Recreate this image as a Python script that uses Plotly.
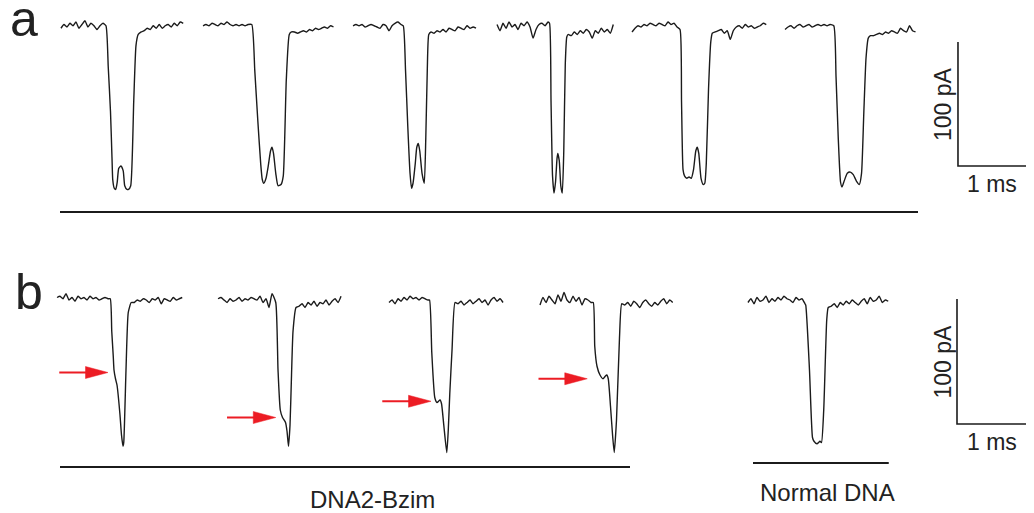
import plotly.graph_objects as go

# ---------------- data (time in ms, current change in pA) ----------------
DT = 0.04  # sampling step of the baseline segments (ms)

# Panel a traces: baseline before event, event points, baseline after event
a1_pre = [-1, 2, 0, 3, 1, 4, -1, 2, 5, 0, 3, 1, -2, 1, 3]
a1_ev_t = [0.60, 0.63, 0.66, 0.68, 0.69, 0.71, 0.73, 0.75, 0.77, 0.80, 0.83, 0.85, 0.88, 0.90, 0.93, 0.97, 1.00, 1.03]
a1_ev_i = [1, -32, -68, -105, -123, -130, -131, -125, -114, -112, -116, -128, -131, -131, -128, -60, -15, -6]
a1_post = [-4, -3, -1, -2, 1, -1, 2, -1, 1, 2, 0, 3, 1, 4, 3]

a2_pre = [1, 2, 1, 3, 2, 1, 3, 2, 4, 2, 1, 2, 1, 2, 1, 2]
a2_ev_t = [0.65, 0.69, 0.73, 0.77, 0.79, 0.81, 0.84, 0.87, 0.90, 0.92, 0.94, 0.97, 1.00, 1.04, 1.07, 1.11, 1.15, 1.18]
a2_ev_i = [2, -35, -75, -111, -123, -126, -122, -112, -100, -97, -102, -118, -128, -127, -120, -43, -6, -4]
a2_post = [-4, -5, -4, -3, -4, -2, -3, -1, -2, -1, 0, -1, 1, 0]

a3_pre = [1, 2, 1, 2, 0, 1, 2, 1, 0, -1, 2, 1, -3, 1, 3, 4, 2]
a3_ev_t = [0.67, 0.70, 0.73, 0.76, 0.78, 0.80, 0.83, 0.85, 0.87, 0.89, 0.92, 0.95, 0.97, 0.99, 1.01, 1.04]
a3_ev_i = [1, -35, -80, -118, -130, -126, -110, -97, -94, -100, -118, -126, -90, -35, -6, -4]
a3_post = [-5, -3, -4, -2, -4, -1, -2, -3, 0, -1, -2, 1, -1, 0, -1]

a4_pre = [2, -3, 3, -1, 4, 0, 2, -2, 3, 1, 4, 0, -9, -2, 2, 3, 1, 4]
a4_ev_t = [0.70, 0.72, 0.74, 0.76, 0.78, 0.80, 0.81, 0.83, 0.85, 0.87, 0.89, 0.91, 0.93, 0.95]
a4_ev_i = [3, -60, -120, -134, -125, -106, -102, -108, -128, -134, -100, -30, -8, -6]
a4_post = [-7, -4, -6, -3, -5, -2, -4, -9, -3, -5, -1, -4, -2, -5, 2]

a5_pre = [-4, -1, 1, 0, 2, 1, 3, 2, 1, 3, 2, 1, 4, 2, 3, 0]
a5_ev_t = [0.64, 0.66, 0.68, 0.70, 0.73, 0.76, 0.79, 0.82, 0.85, 0.87, 0.89, 0.92, 0.95, 0.97, 0.99, 1.02, 1.05, 1.07]
a5_ev_i = [-2, -60, -115, -120, -122, -121, -122, -115, -100, -97, -102, -122, -127, -126, -110, -50, -12, -5]
a5_post = [-4, -3, -2, -5, -3, -10, -3, 0, 1, -1, 2, 0, 1, -1, 0, 1, 3, 2]

a6_pre = [-2, 0, 1, -1, 1, 2, 0, 1, 2, 0, 1, 2, 1, 2, 1, 2]
a6_ev_t = [0.65, 0.68, 0.71, 0.74, 0.76, 0.79, 0.83, 0.87, 0.91, 0.95, 0.99, 1.02, 1.05, 1.08, 1.11, 1.14]
a6_ev_i = [1, -40, -90, -125, -129, -124, -118, -117, -119, -124, -127, -118, -70, -25, -9, -7]
a6_post = [-7, -6, -5, -6, -4, -5, -3, -4, -5, -1, -3, -4, 1, -3, -4]

# Panel b traces (DNA2-Bzim x4, normal DNA x1)
b1_pre = [2, 3, 1, 5, 0, 2, -1, 3, 1, 2, 0, 3, 1, 2, 0, 1, 2, 1]
b1_ev_t = [0.71, 0.73, 0.75, 0.76, 0.78, 0.80, 0.84, 0.86, 0.88, 0.89, 0.92, 0.95, 0.99]
b1_ev_i = [1, -25, -45, -56, -63, -68, -92, -108, -117, -114, -56, -10, -2]
b1_post = [-2, 0, -1, 1, 0, -2, 1, 0, 2, -3, 1, 0, -1, 2, 0, 1, 2]

b2_pre = [1, 2, 0, -2, 1, -1, 0, 2, -1, 1, 0, 2, 1, 0, 3, -2, 1, -6, 5]
b2_ev_t = [0.77, 0.80, 0.83, 0.86, 0.90, 0.92, 0.94, 0.96, 0.98, 1.00, 1.04]
b2_ev_i = [-2, -56, -88, -94, -98, -105, -117, -100, -60, -25, -6]
b2_post = [-5, -3, -6, -2, -4, -1, -5, -2, -3, 0, -4, -1, 1, -2, 3]

b3_pre = [-2, 0, -3, 1, -1, 2, 0, 3, 1, 2, 0, 2, 1, 0]
b3_ev_t = [0.54, 0.57, 0.61, 0.64, 0.68, 0.70, 0.73, 0.77, 0.79, 0.81, 0.84, 0.88]
b3_ev_i = [0, -42, -78, -82, -80, -83, -100, -122, -104, -75, -40, -2]
b3_post = [-3, -1, -4, -2, 0, -3, -1, 1, -2, 0, -4, 0, 2, -1, 1, -2]

b4_pre = [-4, 2, -2, 3, 0, -3, 4, -1, 6, 0, -2, 3, -1, 2, -4, 1, 0, -2]
b4_ev_t = [0.71, 0.73, 0.76, 0.80, 0.84, 0.87, 0.89, 0.91, 0.94, 0.97, 0.99, 1.02, 1.06, 1.09]
b4_ev_i = [-2, -37, -53, -60, -63, -61, -60, -63, -85, -110, -122, -96, -30, -3]
b4_post = [-4, -2, -5, -1, -3, -6, -2, 0, -3, -5, -2, -4, -1, 1, -3, 0, -2]

b5_pre = [-2, 1, -3, 2, -1, 0, 3, -2, 1, -1, 2, 0, 3, 1, 0, -2, 2, 0, 1, -3]
b5_ev_t = [0.77, 0.82, 0.86, 0.88, 0.92, 0.96, 0.98, 1.01, 1.05, 1.07]
b5_ev_i = [-4, -56, -110, -113, -115, -113, -114, -88, -16, -6]
b5_post = [-5, -3, -6, -2, -4, -1, -3, 0, -2, -4, -1, 1, -3, 2, -1, 0, 3, -2, 0, -1]

# Arrow targets (shoulders) in panel b: time of tip within trace and current level
arrow_tip_t = [0.68, 0.77, 0.56, 0.63]
arrow_tip_i = [-58, -94, -81, -63]
arrow_len = 0.65       # ms
arrow_head_len = 0.30  # ms
arrow_head_half = 4.8  # pA

# Scale bars
scale_t = 1.0    # ms
scale_i = 100.0  # pA

labels = ["a", "b"]
group_labels = ["DNA2-Bzim", "Normal DNA"]

# ---------------- layout positions ----------------
a_offsets = [0.813, 2.707, 4.707, 6.627, 8.427, 10.467]
b_offsets = [0.760, 2.907, 5.187, 7.200, 9.973]

# the page body has an 8px margin -> figure is drawn 8px right/down
PAD = 8
W, H = 1034 - PAD, 513 - PAD
PXMS = 75.0
X_RANGE = [PAD / PXMS, (W + PAD) / PXMS]
half = H / 2.0
YA_RANGE = [-(PAD + half - 27) / 1.24, (27 - PAD) / 1.24]
YB_RANGE = [-(513 - 300) / 1.25, (300 - (PAD + half)) / 1.25]


def px(X):
    return (X - PAD) / W


def py(Y):
    return 1 - (Y - PAD) / H


def build(pre, ev_t, ev_i, post, off):
    t = [k * DT for k in range(len(pre))] + list(ev_t) + [ev_t[-1] + DT * (k + 1) for k in range(len(post))]
    i = list(pre) + list(ev_i) + list(post)
    return [v + off for v in t], i


fig = go.Figure()
INK = "#1b1b1b"
LINE = dict(color=INK, width=1.4, shape="spline", smoothing=0.5)

a_traces = [
    (a1_pre, a1_ev_t, a1_ev_i, a1_post), (a2_pre, a2_ev_t, a2_ev_i, a2_post),
    (a3_pre, a3_ev_t, a3_ev_i, a3_post), (a4_pre, a4_ev_t, a4_ev_i, a4_post),
    (a5_pre, a5_ev_t, a5_ev_i, a5_post), (a6_pre, a6_ev_t, a6_ev_i, a6_post),
]
b_traces = [
    (b1_pre, b1_ev_t, b1_ev_i, b1_post), (b2_pre, b2_ev_t, b2_ev_i, b2_post),
    (b3_pre, b3_ev_t, b3_ev_i, b3_post), (b4_pre, b4_ev_t, b4_ev_i, b4_post),
    (b5_pre, b5_ev_t, b5_ev_i, b5_post),
]

for tr, off in zip(a_traces, a_offsets):
    x, y = build(*tr, off)
    fig.add_trace(go.Scatter(x=x, y=y, mode="lines", line=LINE, xaxis="x", yaxis="y",
                             hoverinfo="skip", showlegend=False))
for tr, off in zip(b_traces, b_offsets):
    x, y = build(*tr, off)
    fig.add_trace(go.Scatter(x=x, y=y, mode="lines", line=LINE, xaxis="x2", yaxis="y2",
                             hoverinfo="skip", showlegend=False))

# Underlines
BAR = dict(color=INK, width=1.8)
underlines = [("x", "y", [0.80, 12.24], -149.2),
              ("x2", "y2", [0.80, 8.40], -133.6),
              ("x2", "y2", [10.04, 11.85], -130.4)]
for xa, ya, xs, lev in underlines:
    fig.add_trace(go.Scatter(x=xs, y=[lev, lev], mode="lines", line=BAR, xaxis=xa, yaxis=ya,
                             hoverinfo="skip", showlegend=False))

# Scale bars (corner at bottom-left)
scale_corners = [("x", "y", 12.773, -112.1), ("x2", "y2", 12.760, -99.2)]
for xa, ya, cx, cy in scale_corners:
    fig.add_trace(go.Scatter(x=[cx, cx, cx + scale_t], y=[cy + scale_i, cy, cy], mode="lines",
                             line=dict(color=INK, width=1.6), xaxis=xa, yaxis=ya,
                             hoverinfo="skip", showlegend=False))

# Red arrows
RED = "#ec1c24"
for tt, ii, off in zip(arrow_tip_t, arrow_tip_i, b_offsets[:4]):
    tip = off + tt
    tail = tip - arrow_len
    base = tip - arrow_head_len
    fig.add_trace(go.Scatter(x=[tail, base + 0.02], y=[ii, ii], mode="lines",
                             line=dict(color=RED, width=2), xaxis="x2", yaxis="y2",
                             hoverinfo="skip", showlegend=False))
    fig.add_trace(go.Scatter(x=[base, tip, base, base],
                             y=[ii + arrow_head_half, ii, ii - arrow_head_half, ii + arrow_head_half],
                             mode="lines", fill="toself", fillcolor=RED, line=dict(color=RED, width=0.5),
                             xaxis="x2", yaxis="y2", hoverinfo="skip", showlegend=False))

FONT = "Arial, 'Liberation Sans', Helvetica, sans-serif"
TXT = "#222222"
ann = []
ann.append(dict(text=labels[0], x=px(24), y=py(19), xref="paper", yref="paper",
                showarrow=False, font=dict(size=50, family=FONT, color=TXT), xanchor="center", yanchor="middle"))
ann.append(dict(text=labels[1], x=px(29), y=py(292), xref="paper", yref="paper",
                showarrow=False, font=dict(size=50, family=FONT, color=TXT), xanchor="center", yanchor="middle"))
ann.append(dict(text=group_labels[0], x=px(372), y=py(499), xref="paper", yref="paper",
                showarrow=False, font=dict(size=24, family=FONT, color=TXT), xanchor="center", yanchor="middle"))
ann.append(dict(text=group_labels[1], x=px(827), y=py(492), xref="paper", yref="paper",
                showarrow=False, font=dict(size=24, family=FONT, color=TXT), xanchor="center", yanchor="middle"))
for xa, ya, cx, cy in scale_corners:
    ann.append(dict(text=f"{int(scale_i)} pA", x=cx, y=cy + scale_i / 2, xref=xa, yref=ya, textangle=-90,
                    xshift=-15, showarrow=False, font=dict(size=23, family=FONT, color=TXT),
                    xanchor="center", yanchor="middle"))
    ann.append(dict(text=f"{int(scale_t)} ms", x=cx + scale_t / 2 - 0.04, y=cy, xref=xa, yref=ya,
                    yshift=-18, showarrow=False, font=dict(size=23, family=FONT, color=TXT),
                    xanchor="center", yanchor="middle"))

AX = dict(visible=False, showgrid=False, zeroline=False, fixedrange=True)
fig.update_layout(
    width=W, height=H, margin=dict(l=0, r=0, t=0, b=0),
    paper_bgcolor="white", plot_bgcolor="white",
    xaxis=dict(AX, range=X_RANGE, domain=[0, 1], anchor="y"),
    yaxis=dict(AX, range=YA_RANGE, domain=[0.5, 1], anchor="x"),
    xaxis2=dict(AX, range=X_RANGE, domain=[0, 1], anchor="y2"),
    yaxis2=dict(AX, range=YB_RANGE, domain=[0, 0.5], anchor="x2"),
    annotations=ann, showlegend=False,
)

fig.write_html("out.html")
